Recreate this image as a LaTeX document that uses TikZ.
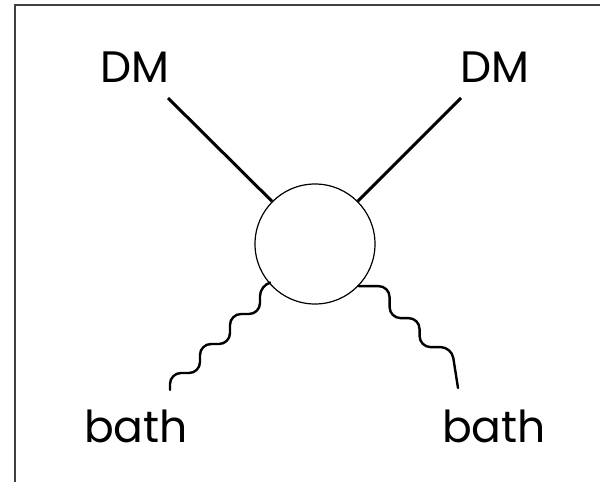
\documentclass[tikz,border=0pt]{standalone}
\usepackage{fontspec}
\setmainfont{Poppins}
\begin{document}
\begin{tikzpicture}[x=1pt,y=-1pt,
  label/.style={font=\fontsize{44}{44}\selectfont, anchor=base, inner sep=0pt},
  blob/.style={draw, circle, minimum size=120pt, inner sep=0pt, line width=1.2pt},
  leg/.style={line width=3pt},
  wave/.style={line width=2.4pt, rounded corners=11pt, line cap=round},
  frame/.style={draw=black!75, line width=1.6pt}]
\useasboundingbox (0,0) rectangle (600,482);
\draw[frame] (15,490) -- (15,5) -- (610,5);
\node[label] (dmL) at (135,82) {DM};
\node[label] (dmR) at (495,82) {DM};
\node[label] (bathL) at (136,442) {bath};
\node[label] (bathR) at (494,442) {bath};
\node[blob] (c) at (315,244) {};
\coordinate (eL) at (168,98);
\coordinate (eR) at (461,98);
\coordinate (wL) at (170,390);
\coordinate (wR) at (458,388);
\draw[leg] (eL) -- (c);
\draw[leg] (eR) -- (c);
\draw[wave] (wL) -- ++(0,-17) -- ++(30,0) -- ++(0,-29) -- ++(30,0) -- ++(0,-30) -- ++(30,0) -- ++(0,-29) -- (c.220);
\draw[wave] (c.-44) -- ++(31,0) -- ++(0,32) -- ++(30,0) -- ++(0,29) -- ++(32,0) -- (wR);
\end{tikzpicture}
\end{document}
